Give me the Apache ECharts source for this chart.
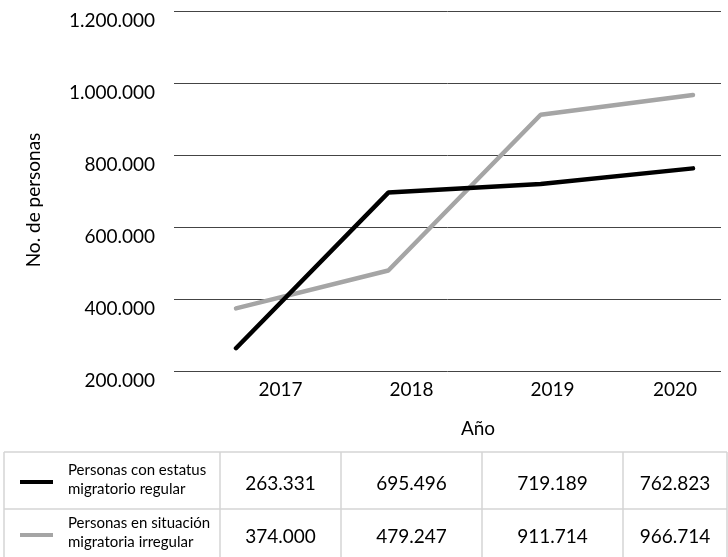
<!DOCTYPE html>
<html><head><meta charset="utf-8">
<script src="https://cdn.jsdelivr.net/npm/echarts/dist/echarts.min.js"></script>
<style>html,body{margin:0;padding:0;background:#fff}#c{width:728px;height:557px}</style>
</head><body><div id="c"></div>
<script>
// ---- data ----
const years = ['2017', '2018', '2019', '2020'];
const seriesNames = ['Personas con estatus\nmigratorio regular', 'Personas en situación\nmigratoria irregular'];
const regular = [263331, 695496, 719189, 762823];
const irregular = [374000, 479247, 911714, 966714];
const yMin = 200000, yMax = 1200000, yStep = 200000;
const yTitle = 'No. de personas';
const xTitle = 'Año';

// ---- layout / style ----
const FONT = 'Lato';
const colors = ['#000000', '#a5a5a5'];
const colX = [4, 220, 341, 482, 623, 727];
const rowY = [452, 509, 566];
const rowCenter = [484, 537];
const fmt = v => String(v).replace(/\B(?=(\d{3})+(?!\d))/g, '.');

const chart = echarts.init(document.getElementById('c'), null, {renderer: 'canvas'});

const graphics = [];
// table borders
const borderStyle = {stroke: '#d4d4d4', lineWidth: 1.5};
rowY.slice(0, 2).forEach(y => graphics.push({type: 'line', shape: {x1: colX[0], y1: y, x2: colX[colX.length - 1], y2: y}, style: borderStyle}));
colX.forEach(x => graphics.push({type: 'line', shape: {x1: x, y1: rowY[0], x2: x, y2: 557}, style: borderStyle}));
// year labels
years.forEach((yr, i) => graphics.push({type: 'text', x: (colX[i + 1] + colX[i + 2]) / 2, y: 390,
  style: {text: yr, fontFamily: FONT, fontSize: 19, fill: '#000', align: 'center', verticalAlign: 'middle'}}));
// axis titles
graphics.push({type: 'text', x: 478, y: 429, style: {text: xTitle, fontFamily: FONT, fontSize: 19, fill: '#000', align: 'center', verticalAlign: 'middle'}});
graphics.push({type: 'text', x: 34, y: 200, rotation: Math.PI / 2, style: {text: yTitle, fontFamily: FONT, fontSize: 19, fill: '#000', align: 'center', verticalAlign: 'middle'}});
// table rows
[regular, irregular].forEach((arr, r) => {
  const cy = rowCenter[r];
  graphics.push({type: 'line', shape: {x1: 20, y1: cy - 2, x2: 53, y2: cy - 2}, style: {stroke: colors[r], lineWidth: 4}});
  graphics.push({type: 'text', x: 68, y: cy - 4, style: {text: seriesNames[r], fontFamily: FONT, fontSize: 15, lineHeight: 19, fill: '#000', align: 'left', verticalAlign: 'middle'}});
  arr.forEach((v, i) => graphics.push({type: 'text', x: (colX[i + 1] + colX[i + 2]) / 2, y: cy,
    style: {text: fmt(v), fontFamily: FONT, fontSize: 19, fill: '#000', align: 'center', verticalAlign: 'middle'}}));
});

chart.setOption({
  animation: false,
  backgroundColor: '#fff',
  grid: [
    {left: 174, right: 7, top: 11, height: 360},
    {left: 236, right: 35, top: 11, height: 360}
  ],
  xAxis: [
    {gridIndex: 0, type: 'category', data: years, show: false},
    {gridIndex: 1, type: 'category', data: years, boundaryGap: false, show: false}
  ],
  yAxis: [
    {gridIndex: 0, type: 'value', min: yMin, max: yMax, interval: yStep,
     axisLine: {show: false}, axisTick: {show: false},
     axisLabel: {formatter: fmt, fontFamily: FONT, fontSize: 19, color: '#000', margin: 19, verticalAlign: 'top', lineHeight: 19},
     splitLine: {lineStyle: {color: '#444', width: 1}}},
    {gridIndex: 1, type: 'value', min: yMin, max: yMax, interval: yStep, show: false, splitLine: {show: false}}
  ],
  series: [
    {name: seriesNames[0], type: 'line', xAxisIndex: 1, yAxisIndex: 1, data: regular, symbol: 'none',
     lineStyle: {color: colors[0], width: 4.5, cap: 'round'}, z: 3},
    {name: seriesNames[1], type: 'line', xAxisIndex: 1, yAxisIndex: 1, data: irregular, symbol: 'none',
     lineStyle: {color: colors[1], width: 4.5, cap: 'round'}, z: 2}
  ],
  graphic: graphics
});
</script></body></html>
